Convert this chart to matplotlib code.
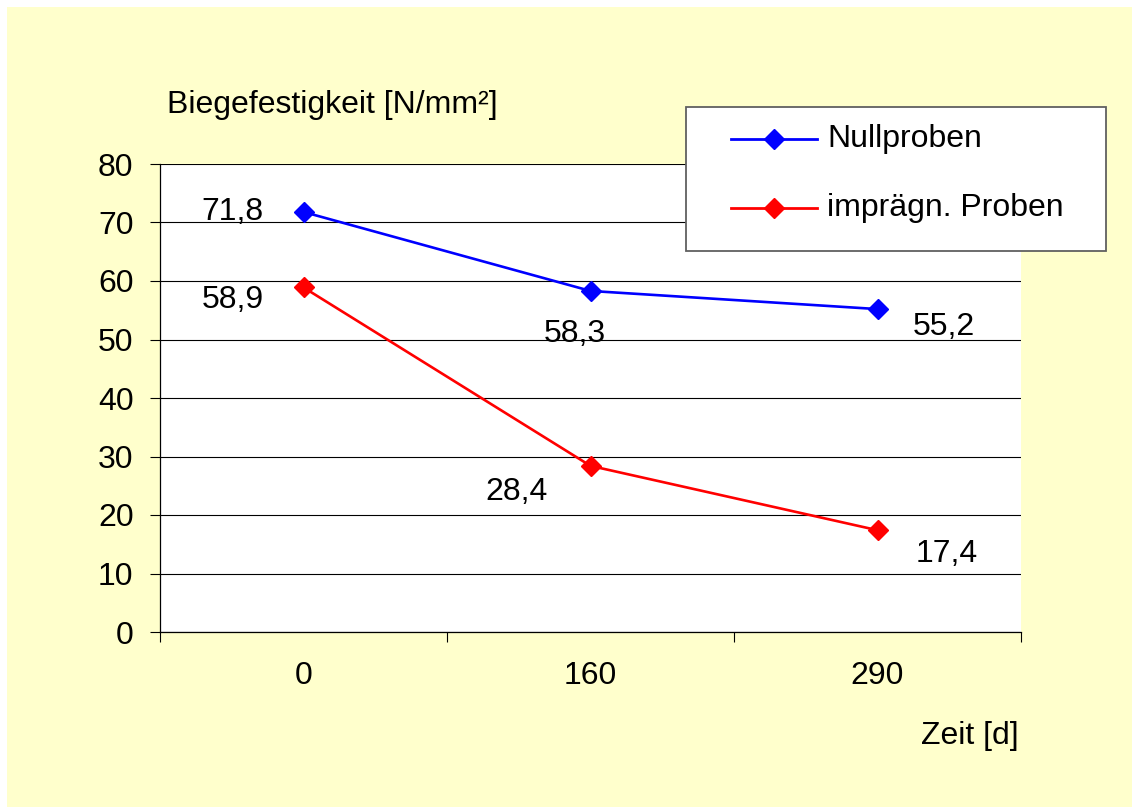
import matplotlib
matplotlib.use("Agg")
import matplotlib.pyplot as plt
import matplotlib.patches as patches
from matplotlib.lines import Line2D

plt.rcParams['font.family'] = ['Liberation Sans', 'DejaVu Sans']

zeit = ["0", "160", "290"]
nullproben = [71.8, 58.3, 55.2]
impraegniert = [58.9, 28.4, 17.4]
serien = ["Nullproben", "imprägn. Proben"]
farben = ["#0000FF", "#FF0000"]
y_ticks = [0, 10, 20, 30, 40, 50, 60, 70, 80]

# label offsets in points (dx, dy)
off_null = [(-51, 0), (-11, -31), (48, -13)]
off_impr = [(-51, -9), (-53, -19), (50, -17)]

W, H = 1132, 807
FS = 23

fig = plt.figure(figsize=(W / 100, H / 100), dpi=100)
fig.patch.set_facecolor("white")
fig.patches.append(patches.Rectangle((7 / W, 0), 1, 1 - 7 / H, transform=fig.transFigure,
                                     facecolor="#FFFFCC", edgecolor="none", zorder=-10))

ax = fig.add_axes([160 / W, 1 - 632 / H, (1021 - 160) / W, (632 - 164) / H])
ax.set_facecolor("white")

x = list(range(len(zeit)))
for werte, offs, farbe, name in [(nullproben, off_null, farben[0], serien[0]),
                                 (impraegniert, off_impr, farben[1], serien[1])]:
    ax.plot(x, werte, color=farbe, lw=1.9, marker="D", ms=10.5, label=name, zorder=3, clip_on=False)
    for i, v in enumerate(werte):
        ax.annotate(f"{v:.1f}".replace(".", ","), (x[i], v), xytext=offs[i],
                    textcoords="offset points", ha="center", va="center", fontsize=FS)

ax.set_xlim(-0.5, len(zeit) - 0.5)
ax.set_ylim(0, 80)
ax.set_yticks(y_ticks)
ax.tick_params(axis="y", labelsize=FS, length=7, width=0.8, pad=12, direction="out")
ax.yaxis.grid(True, color="black", lw=0.8)
ax.set_axisbelow(True)

ax.set_xticks([i - 0.5 for i in range(len(zeit) + 1)])
ax.set_xticklabels([])
ax.set_xticks(x, minor=True)
ax.set_xticklabels(zeit, minor=True, fontsize=FS)
ax.tick_params(axis="x", which="major", length=7, width=0.8, direction="out")
ax.tick_params(axis="x", which="minor", length=0, pad=21)

for s in ["top", "right"]:
    ax.spines[s].set_visible(False)
for s in ["left", "bottom"]:
    ax.spines[s].set_linewidth(0.9)

fig.text(167 / W, 1 - 105 / H, "Biegefestigkeit [N/mm²]", fontsize=FS, ha="left", va="center")
fig.text(1019 / W, 1 - 736 / H, "Zeit [d]", fontsize=FS, ha="right", va="center")

# legend box, drawn by hand to match the original layout
fig.patches.append(patches.Rectangle((686 / W, 1 - 251 / H), (1106 - 686) / W, (251 - 107) / H,
                                     transform=fig.transFigure, facecolor="white",
                                     edgecolor="#606060", lw=1.3, zorder=5))
for k, (name, farbe) in enumerate(zip(serien, farben)):
    yy = 1 - (139 + 69 * k) / H
    fig.add_artist(Line2D([731 / W, 817 / W], [yy, yy], color=farbe, lw=2,
                          transform=fig.transFigure, zorder=6))
    fig.add_artist(Line2D([774 / W], [yy], color=farbe, marker="D", ms=10.5,
                          transform=fig.transFigure, zorder=6))
    fig.text(827 / W, yy, name, fontsize=FS, ha="left", va="center", zorder=6)

fig.savefig("out.png", dpi=100)
